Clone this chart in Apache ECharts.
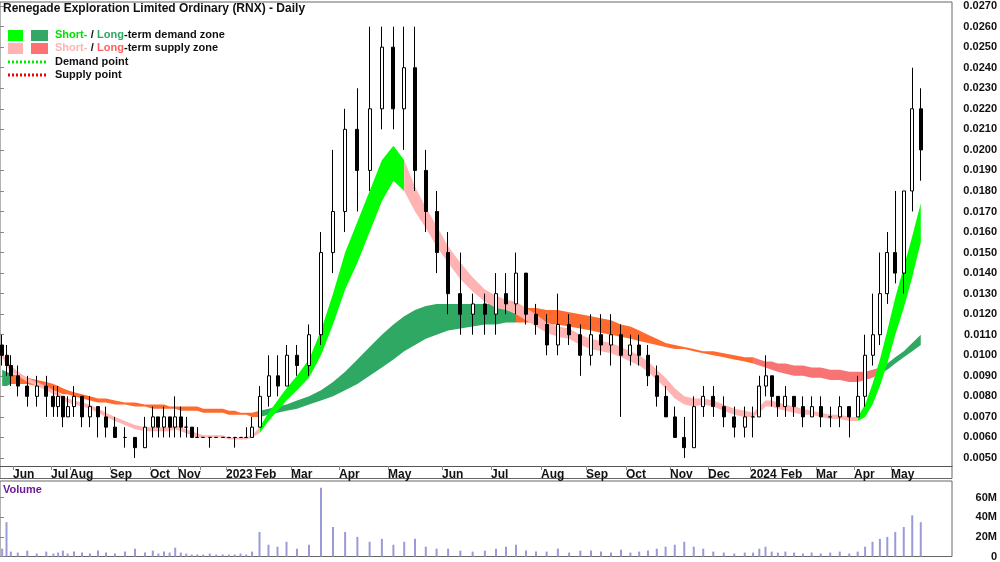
<!DOCTYPE html>
<html><head><meta charset="utf-8">
<script src="https://cdn.jsdelivr.net/npm/echarts@6/dist/echarts.min.js"></script>
<style>html,body{margin:0;padding:0;background:#fff}#c{width:1000px;height:562px}</style>
</head><body><div id="c"></div>
<script>
// months from May 2022 to May 2024: label, trading sessions shown, weeks sampled
const monthLabels = ['','Jun','Jul','Aug','Sep','Oct','Nov','','2023','Feb','Mar','Apr','May','Jun','Jul','Aug','Sep','Oct','Nov','Dec','2024','Feb','Mar','Apr','May'];
const sessionsPerMonth = [6.5,19,9.5,20,20,14,11,13,14.5,18,24,24.5,27,24.5,25,22.5,20,22,19,21,15.5,17.5,19,18.5,17];
const weeksPerMonth = [3,4,4,5,4,5,4,4,5,4,4,4,5,4,5,4,4,5,4,4,5,4,4,5,4];
// weekly candles [open, close, low, high] in thousandths of a dollar
const ohlc = [
[10.5,10,9.5,11],[10,9.5,9,10.5],[9.5,9,8.5,10],
[9,8.5,8,9.5],[8.5,8,7.5,9],[8,8.5,7.5,9],[8.5,8,7,9],
[8,7.5,7,8.5],[7.5,8,7,8.5],[8,7,6.5,8],[7,7.5,7,8],
[7.5,8,7,8.5],[8,7,6.5,8],[7,7.5,6.5,8],[7.5,7,6,7.5],[7,6.5,6,7.5],
[6.5,6,6,7],[6,6,5.5,6.5],[6,5.5,5,6],[5.5,6.5,5.5,7],
[6.5,7,6,7.5],[7,6.5,6,7],[6.5,7,6,7.5],[7,6.5,6,7],[6.5,7,6,8],
[7,6.5,6,7.5],[6.5,6.5,6,7],[6.5,6,6,6.5],[6,6,6,6.5],
[6,6,6,6],[6,6,5.5,6],[6,6,6,6],[6,6,6,6],
[6,6,6,6],[6,6,5.5,6],[6,6,6,6],[6,6,6,6.5],[6,6.5,6,7],
[6.5,8,6.5,8.5],[8,9,7.5,10],[9,8.5,8,10],[8.5,10,8.5,10.5],
[10,9.5,9,10.5],[9.5,11,9,11.5],[11,15,10.5,16],[15,17,14,20],
[17,21,16,22],[21,19,17,23],[19,22,18,26],[22,25,21,26],
[25,22,21,26],[22,24,20,26],[24,19,18,26],[19,17,16,20],[17,15,14,18],
[15,13,12,16],[13,12,11,15],[12,12.5,11,13],[12.5,12,11,13],
[12,13,11,14],[13,12.5,12,14],[12.5,14,12,15],[14,12,11.5,14],[12,11.5,11,12.5],
[11.5,10.5,10,12],[10.5,11.5,10,13],[11.5,11,10.5,12],[11,10,9,11.5],
[10,11,9.5,12],[11,10.5,10,12],[10.5,11,9.5,12],[11,10,7,11.5],
[10,10.5,9.5,11],[10.5,10,9.5,11],[10,9,8.5,10.5],[9,8,7.5,9.5],[8,7,7,8.5],
[7,6,6,7.5],[6,5.5,5,7],[5.5,7.5,5.5,8],[7.5,8,7,8.5],
[8,7.5,7,8.5],[7.5,7,6.5,8],[7,6.5,6,7.5],[6.5,7,6,7.5],
[7,7,6,7.5],[7,8.5,7,9],[8.5,9,8,10],[9,8,7.5,9],[8,7.5,7,8],
[7.5,8,7,8.5],[8,7.5,7,8],[7.5,7,6.5,8],[7,7.5,7,8],
[7.5,7,6.5,8],[7,7,6.5,7.5],[7,7.5,6.5,8],[7.5,7,6,7.5],
[7,8,7,9],[8,10,7.5,11],[10,11,9.5,13],[11,13,10.5,15],[13,15,12.5,16],
[15,14,13.5,18],[14,18,13,18],[18,22,17,24],[22,20,18.5,23]
];
const volumeM = [8,35,5, 4,6,3,5, 3,4,6,3, 5,4,3,6,4, 3,5,8,4, 6,3,5,4,9, 4,3,2,2, 2,3,2,2, 2,2,3,2,5,
25,12,10,15, 8,12,70,30, 25,20,15,18, 12,15,18,10,8, 8,6,5,6, 8,10,12,6,5, 5,8,4,6, 6,5,4,7, 4,5,6,8,10,
12,15,10,8, 5,4,3,4, 4,8,10,5,4, 5,4,3,4, 3,4,5,3, 5,10,15,18,20, 25,30,42,35];
const shortHi = [10.1,9.8,9.5, 9.2,8.9,8.7,8.5, 8.3,8.2,8.0,7.9, 7.8,7.7,7.6,7.4,7.2, 7.0,6.8,6.6,6.5, 6.5,6.5,6.5,6.5,6.6, 6.5,6.4,6.3,6.2, 6.1,6.1,6.1,6.1, 6.0,6.0,6.0,6.0,6.1,
6.5,7.2,7.8,8.4, 9.0,9.8,11.2,13, 15,16.5,18,19.5, 20.2,19.5,18.2,17.2,16.3, 15.3,14.5,13.8,13.2, 12.9,12.7,12.6,12.3,12.0, 11.6,11.4,11.3,11.0, 10.8,10.7,10.6,10.4, 10.2,10,9.7,9.3,8.9,
8.4,8.0,7.9,7.9, 7.8,7.6,7.4,7.3, 7.2,7.5,7.8,7.8,7.7, 7.6,7.5,7.4,7.3, 7.2,7.1,7.1,7.0, 7.0,7.6,8.6,9.8,11.2, 12.8,14.3,15.8,17.4];
const shortLo = [9.9,9.5,9.2, 9.0,8.7,8.5,8.3, 8.1,8.0,7.8,7.7, 7.6,7.5,7.4,7.2,7.0, 6.8,6.6,6.4,6.3, 6.3,6.3,6.3,6.3,6.4, 6.3,6.2,6.1,6.0, 6.0,6.0,6.0,6.0, 5.9,5.9,5.9,5.9,6.0,
6.2,6.8,7.3,7.8, 8.3,8.9,10.0,11.5, 13.2,14.5,16,17.5, 18.5,18,17,16.2,15.3, 14.5,13.7,13.1,12.6, 12.3,12.2,12.0,11.7,11.4, 11.1,10.9,10.8,10.5, 10.3,10.2,10.1,9.9, 9.7,9.5,9.2,8.8,8.4,
7.9,7.6,7.5,7.6, 7.5,7.3,7.1,7.0, 7.0,7.2,7.5,7.5,7.4, 7.3,7.2,7.1,7.1, 7.0,6.9,6.9,6.8, 6.8,7.0,7.6,8.5,9.6, 11,12.3,13.8,15.5];
const longHi = [9.3,9.2,9.1, 9.0,8.9,8.8,8.7, 8.6,8.5,8.4,8.3, 8.2,8.1,8.0,7.9,7.9, 7.8,7.7,7.7,7.6, 7.6,7.6,7.6,7.5,7.5, 7.5,7.5,7.5,7.5, 7.4,7.4,7.4,7.4, 7.3,7.3,7.2,7.2,7.2,
7.3,7.4,7.5,7.6, 7.8,8.0,8.3,8.7, 9.2,9.8,10.4,11, 11.5,11.9,12.2,12.4,12.5, 12.5,12.5,12.5,12.5, 12.5,12.4,12.4,12.3,12.3, 12.2,12.2,12.1,12.0, 11.9,11.8,11.7,11.5, 11.4,11.2,11.0,10.8,10.6,
10.5,10.4,10.3,10.2, 10.2,10.1,10.0,9.9, 9.9,9.8,9.7,9.7,9.6, 9.6,9.5,9.5,9.4, 9.4,9.3,9.3,9.2, 9.2,9.2,9.3,9.4,9.6, 9.9,10.2,10.6,11.0];
const longLo = [8.5,8.5,8.6, 8.6,8.6,8.5,8.4, 8.3,8.2,8.1,8.1, 8.0,7.9,7.8,7.7,7.7, 7.6,7.6,7.5,7.5, 7.4,7.4,7.4,7.4,7.4, 7.3,7.3,7.3,7.3, 7.2,7.2,7.2,7.2, 7.1,7.1,7.1,7.1,7.0,
7.0,7.1,7.2,7.3, 7.4,7.6,7.8,8.0, 8.3,8.6,9.0,9.4, 9.8,10.2,10.5,10.8,11.0, 11.2,11.3,11.4,11.5, 11.5,11.6,11.6,11.6,11.6, 11.5,11.5,11.4,11.3, 11.2,11.1,11.0,10.9, 10.8,10.7,10.6,10.5,10.4,
10.3,10.3,10.2,10.1, 10.0,9.9,9.8,9.7, 9.6,9.5,9.4,9.3,9.2, 9.1,9.0,9.0,8.9, 8.9,8.8,8.8,8.7, 8.7,8.8,8.9,9.1,9.3, 9.6,9.9,10.2,10.5];
// zone state per week: d = demand, s = supply (orange), r = supply (red tint)
const shortState = 's'.repeat(38)+'d'.repeat(13)+'s'.repeat(47)+'d'.repeat(9);
const longState = 'd'.repeat(2)+'s'.repeat(36)+'d'.repeat(23)+'s'.repeat(24)+'r'.repeat(16)+'d'.repeat(6);
const yTicks = {min:0.004, max:0.0272, interval:0.001};

const monthStart = [], xs = [];
let acc = 0;
sessionsPerMonth.forEach((s,m)=>{
  monthStart.push(acc);
  for (let j=0;j<weeksPerMonth[m];j++) xs.push(acc + (j+0.5)*s/weeksPerMonth[m]);
  acc += s;
});
const XMAX = 476;
const N = ohlc.length;
const k = v => v/1000;
function monthLabel(v){
  for (let i=0;i<monthStart.length;i++) if (Math.abs(monthStart[i]-v)<0.01) return monthLabels[i];
  return '';
}
const series = [];
function band(hi, lo, state, st, color){
  const segs=[]; let a=-1;
  for (let i=0;i<N;i++){
    const on = state[i]===st || (i>0 && state[i-1]===st);
    if (on && a<0) a=i;
    if ((!on || i===N-1) && a>=0){ segs.push([a, on? i : i-1]); a=-1; }
  }
  series.push({type:'custom', xAxisIndex:0, yAxisIndex:0, data:segs, silent:true, z:2, clip:true,
    renderItem:(params, api)=>{
      const [s,e] = segs[params.dataIndex], pts=[];
      for (let i=s;i<=e;i++) pts.push(api.coord([xs[i], k(hi[i])]));
      for (let i=e;i>=s;i--) pts.push(api.coord([xs[i], k(lo[i])]));
      return {type:'polygon', shape:{points:pts}, style:{fill:color}};
    }});
}
band(longHi,longLo,longState,'d','#2ea862');
band(longHi,longLo,longState,'s','#ff6a2e');
band(longHi,longLo,longState,'r','#f87474');
band(shortHi,shortLo,shortState,'d','#00ff00');
band(shortHi,shortLo,shortState,'s','#ffb3b3');
series.push({type:'candlestick', xAxisIndex:0, yAxisIndex:0, data:ohlc.map((r,i)=>[xs[i],...r.map(k)]),
  encode:{x:0,y:[1,2,3,4]}, barWidth:3.5, z:5,
  itemStyle:{color:'#ffffff', color0:'#000000', borderColor:'#000000', borderColor0:'#000000', borderWidth:1}});
series.push({type:'bar', xAxisIndex:1, yAxisIndex:1, data:volumeM.map((v,i)=>[xs[i],v*1e6]), barWidth:2, itemStyle:{color:'#9a9ad8'}});

const chart = echarts.init(document.getElementById('c'));
chart.setOption({
  animation:false,
  grid:[{left:0,right:48,top:2,height:476.5,show:true,borderColor:'#666',borderWidth:1},
        {left:0,right:48,top:481,height:77,show:true,borderColor:'#666',borderWidth:1}],
  xAxis:[{type:'value',gridIndex:0,min:0,max:XMAX,offset:-12.5,splitLine:{show:false},
    axisLine:{lineStyle:{color:'#555'}},
    axisTick:{customValues:monthStart.slice(1),length:4,lineStyle:{color:'#888'}},
    axisLabel:{customValues:monthStart.slice(1),formatter:v=>monthLabel(+v),color:'#111',fontWeight:'bold',fontSize:12,fontFamily:'Liberation Sans',align:'left',margin:3}},
    {type:'value',gridIndex:1,min:0,max:XMAX,splitLine:{show:false},axisLine:{show:false},axisTick:{show:false},axisLabel:{show:false}}],
  yAxis:[{type:'value',gridIndex:0,position:'right',min:yTicks.min,max:yTicks.max,interval:yTicks.interval,splitLine:{show:false},
    axisLine:{show:false},axisTick:{show:true,length:4,lineStyle:{color:'#888'}},
    axisLabel:{showMinLabel:false,formatter:v=>v.toFixed(4),color:'#111',fontWeight:'bold',fontSize:11,fontFamily:'Liberation Sans',align:'right',margin:45}},
    {type:'value',gridIndex:1,position:'right',min:0,max:77e6,interval:20e6,splitLine:{show:false},
    axisLine:{show:false},axisTick:{show:true,length:4,lineStyle:{color:'#888'}},
    axisLabel:{showMaxLabel:false,formatter:v=>v===0?'0':(v/1e6)+'M',color:'#111',fontWeight:'bold',fontSize:11,fontFamily:'Liberation Sans',align:'right',margin:45}}],
  graphic:[
    {type:'text',left:3,top:3,z:100,style:{text:'Renegade Exploration Limited Ordinary (RNX) - Daily',font:'bold 12px Liberation Sans',fill:'#111'}},
    {type:'rect',z:100,shape:{x:8,y:30,width:15,height:11},style:{fill:'#00ff00'}},
    {type:'rect',z:100,shape:{x:31,y:30,width:17,height:11},style:{fill:'#33a866'}},
    {type:'rect',z:100,shape:{x:8,y:43,width:15,height:11},style:{fill:'#ffb3b3'}},
    {type:'rect',z:100,shape:{x:31,y:43,width:17,height:11},style:{fill:'#ff7070'}},
    {type:'line',z:100,shape:{x1:8,y1:62,x2:48,y2:62},style:{stroke:'#00ee00',lineWidth:3,lineDash:[2,2]}},
    {type:'line',z:100,shape:{x1:8,y1:75,x2:48,y2:75},style:{stroke:'#ee0000',lineWidth:3,lineDash:[2,2]}},
    {type:'text',z:100,left:55,top:29,style:{rich:{g:{fill:'#00e000',font:'bold 11px Liberation Sans'},dg:{fill:'#2ea862',font:'bold 11px Liberation Sans'},b:{fill:'#111',font:'bold 11px Liberation Sans'}},text:'{g|Short-} {b|/} {dg|Long}{b|-term demand zone}'}},
    {type:'text',z:100,left:55,top:42,style:{rich:{p:{fill:'#ffb3b3',font:'bold 11px Liberation Sans'},r:{fill:'#ff6060',font:'bold 11px Liberation Sans'},b:{fill:'#111',font:'bold 11px Liberation Sans'}},text:'{p|Short-} {b|/} {r|Long}{b|-term supply zone}'}},
    {type:'text',z:100,left:55,top:56,style:{text:'Demand point',font:'bold 11px Liberation Sans',fill:'#111'}},
    {type:'text',z:100,left:55,top:69,style:{text:'Supply point',font:'bold 11px Liberation Sans',fill:'#111'}},
    {type:'text',z:100,left:3,top:484,style:{text:'Volume',font:'bold 11px Liberation Sans',fill:'#6a1b9a'}}
  ],
  series
});
</script></body></html>
